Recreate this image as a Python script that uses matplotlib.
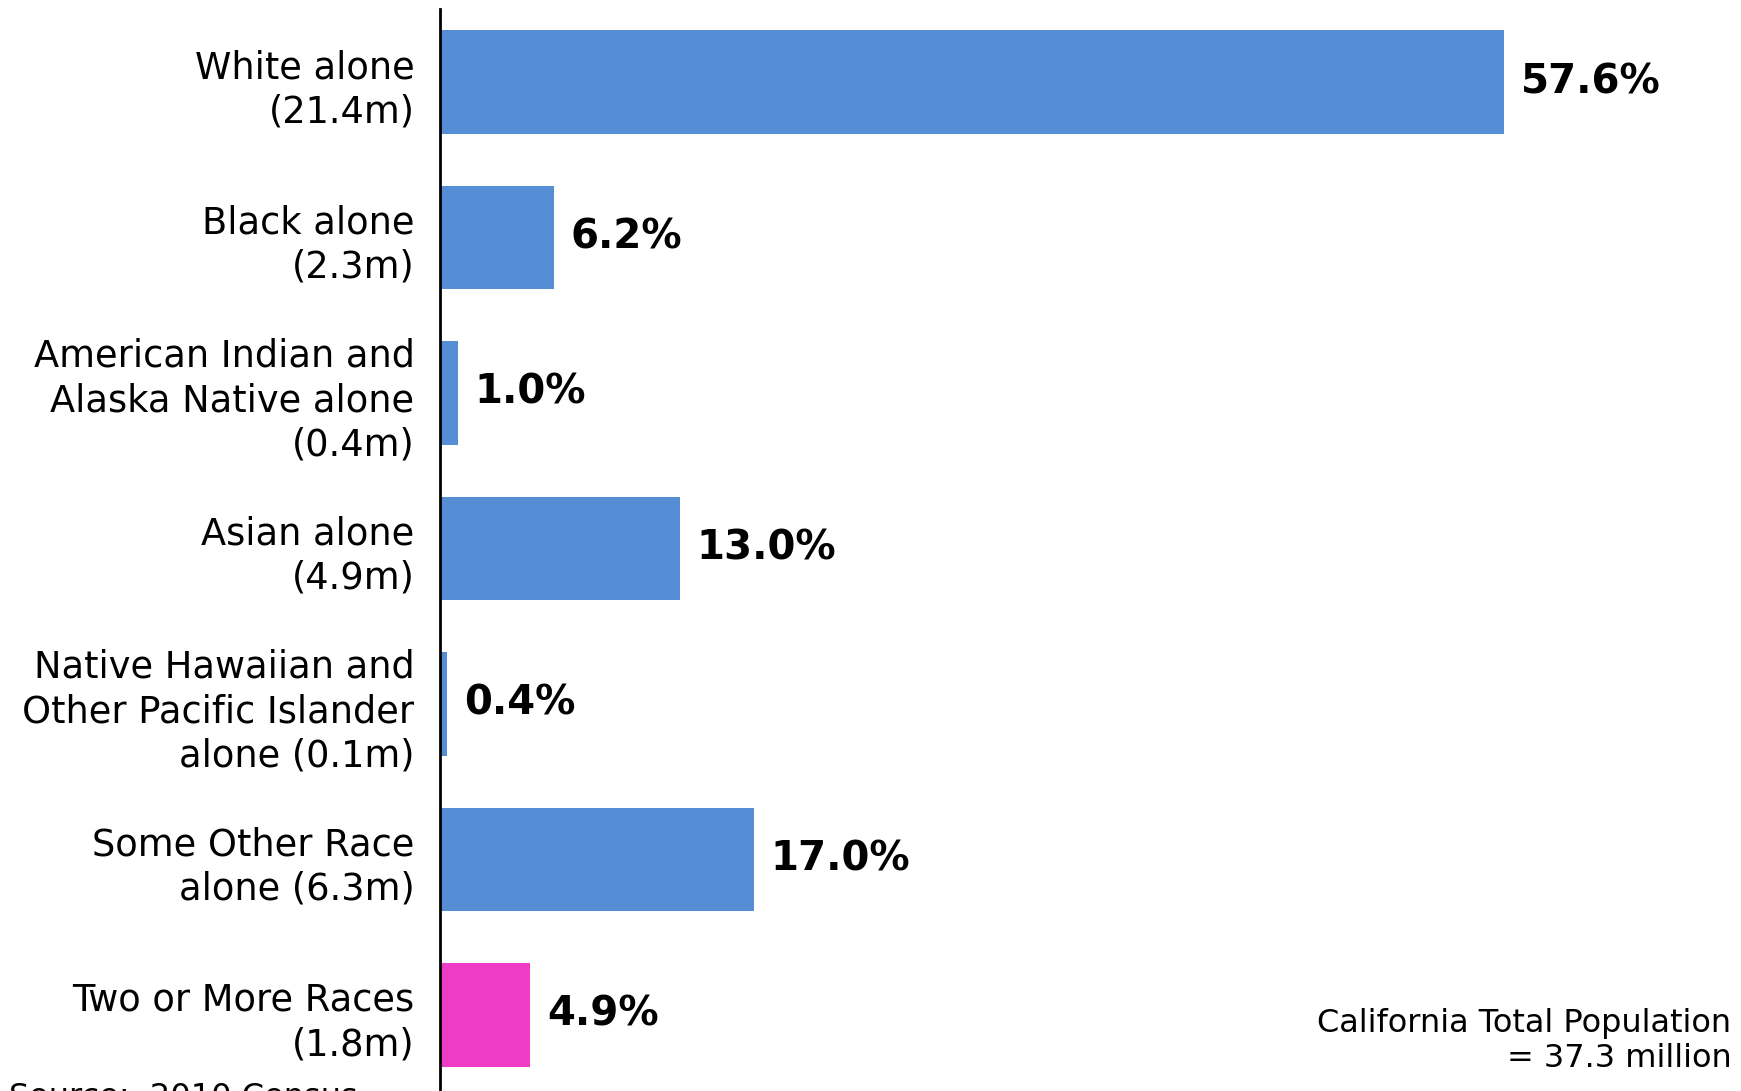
import numpy as np
import matplotlib.pyplot as plt

labels = ["White alone\n(21.4m)",
          "Black alone\n(2.3m)",
          "American Indian and\nAlaska Native alone\n(0.4m)",
          "Asian alone\n(4.9m)",
          "Native Hawaiian and\nOther Pacific Islander\nalone (0.1m)",
          "Some Other Race\nalone (6.3m)",
          "Two or More Races\n(1.8m)"]
shares = [57.6, 6.2, 1.0, 13.0, 0.4, 17.0, 4.9]
colors = ['#558ED5'] * 6 + ['#EE3CC6']

fig = plt.figure(figsize=(17.41, 10.91), dpi=100)
ax = fig.add_axes([0.2525, 0, 0.7475, 1 - 9/1091])

y = np.arange(len(labels))
ax.barh(y, shares, height=0.665, color=colors)
for yi, v in zip(y, shares):
    ax.annotate(f"{v:.1f}%", (v, yi), xytext=(12, 0), textcoords='offset points',
                va='center', ha='left', fontsize=29, fontweight='bold')

ax.set_xlim(0, 70.4)
ax.set_ylim(6.49, -0.47)
ax.set_yticks(y)
ax.set_yticklabels(labels, fontsize=26.5, multialignment='right', linespacing=1.25)
ax.tick_params(axis='y', length=0, pad=18)
ax.set_xticks([])
for s in ['top', 'right', 'bottom']:
    ax.spines[s].set_visible(False)
ax.spines['left'].set_linewidth(2)

fig.text(0.9945, 1 - 1041/1091, "California Total Population\n= 37.3 million",
         ha='right', va='center', fontsize=23, multialignment='right', linespacing=1.2)
# source line sits mostly below the bottom edge, as in the original slide
fig.text(0.005, 0.008, "Source:  2010 Census", ha='left', va='top', fontsize=23)

fig.savefig('out.png', dpi=100)
